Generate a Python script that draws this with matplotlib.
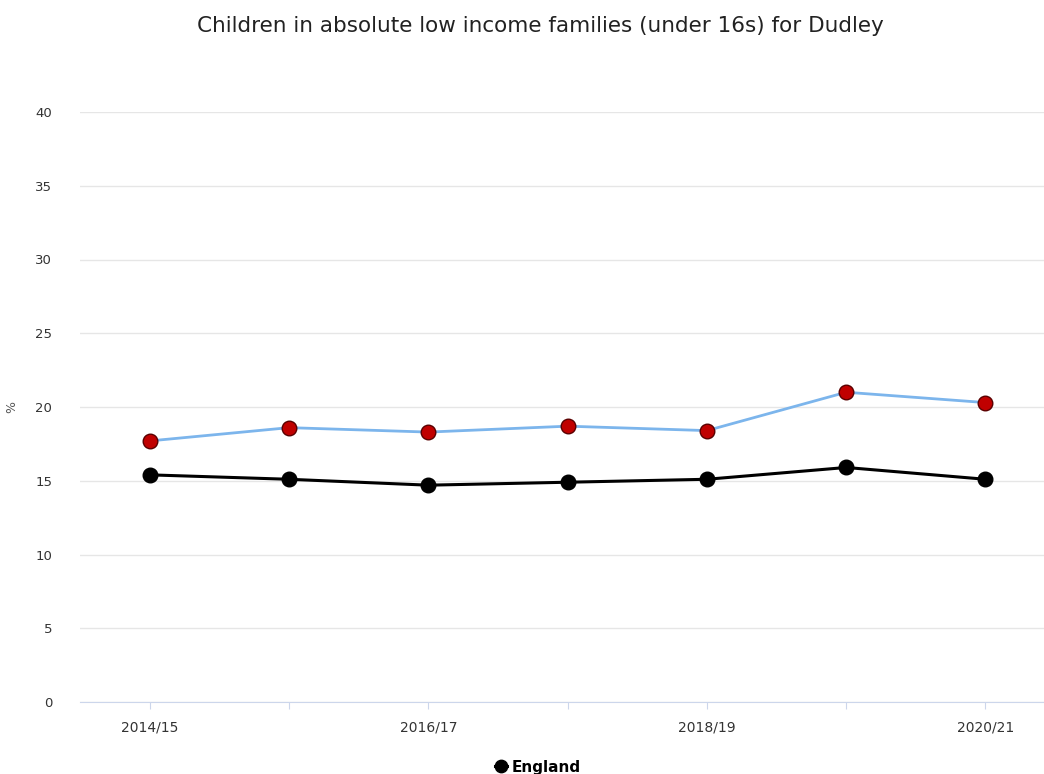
"""
Children in absolute low income families (under 16s) for Dudley vs England.
"""

import matplotlib.pyplot as plt

years = ['2014/15', '2015/16', '2016/17', '2017/18', '2018/19', '2019/20', '2020/21']

# Dudley
dudley = [17.7, 18.6, 18.3, 18.7, 18.4, 21.0, 20.3]

# England
england = [15.4, 15.1, 14.7, 14.9, 15.1, 15.9, 15.1]

fig = plt.figure(figsize=(10.44, 7.74), dpi=100)
ax = fig.add_axes([80 / 1044, 1 - 702 / 774, 1 - 80 / 1044, (702 - 112) / 774])

x = list(range(len(years)))

ax.plot(x, dudley, '-', color='#7cb5ec', lw=2, zorder=3)
ax.plot(x, dudley, 'o', ms=10.5, mfc='#c00000', mec='#5a0000', mew=1, zorder=4)

ax.plot(x, england, 'o-', color='black', lw=2.2, ms=10.5, label='England', zorder=5)

ax.set_xlim(-0.5, 6.42)
ax.set_ylim(0, 40)
ax.set_yticks(range(0, 41, 5))
ax.set_xticks(x)
ax.set_xticklabels([y if i % 2 == 0 else '' for i, y in enumerate(years)])

ax.grid(axis='y', color='#e6e6e6', lw=1)
ax.set_axisbelow(True)
for s in ['top', 'right', 'left']:
    ax.spines[s].set_visible(False)
ax.spines['bottom'].set_color('#ccd6eb')
ax.tick_params(axis='y', length=0, labelsize=9.5, colors='#333333', pad=20)
ax.tick_params(axis='x', length=5, color='#ccd6eb', labelsize=10, labelcolor='#333333', pad=8)

ax.set_ylabel('%', fontsize=9, color='#555555', labelpad=12)

fig.text(0.518, 0.966, 'Children in absolute low income families (under 16s) for Dudley',
         ha='center', va='center', fontsize=15.5, color='#222222')

fig.legend(loc='center', bbox_to_anchor=(0.515, 0.009), frameon=False,
           prop={'weight': 'bold', 'size': 11}, handlelength=0.8, handletextpad=0.3,
           markerscale=0.85)

plt.savefig('out.png', dpi=100)
